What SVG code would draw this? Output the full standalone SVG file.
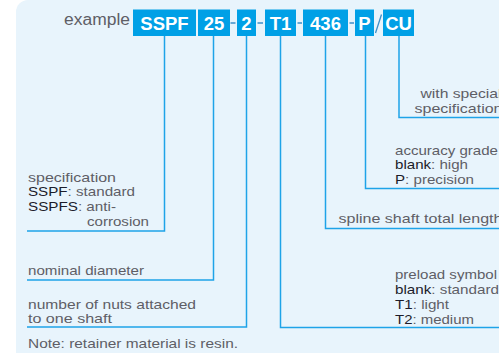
<svg xmlns="http://www.w3.org/2000/svg" width="499" height="353" viewBox="0 0 499 353">
<style>
.bx{fill:#00A0E6}
.bt{font-family:"Liberation Sans",Arial,sans-serif;font-weight:bold;font-size:18.5px;fill:#fff;text-anchor:middle}
.lb{font-family:"Liberation Sans",Arial,sans-serif;font-size:13px;fill:#5e5e66}
.k{fill:#1c1c2a}
.ln{fill:none;stroke:#1EA3E8;stroke-width:1.5}
.sep{stroke:#3f8fc8;stroke-width:1.3;fill:none}
</style>
<rect width="499" height="353" fill="#fff"/>
<path d="M16,12 A12,12 0 0 1 28,0 H499 V353 H16 Z" fill="#E8F4FC"/>
<g id="code">
  <text x="64" y="25" font-family="'Liberation Sans',Arial,sans-serif" font-size="16" fill="#5e5e66" textLength="66" lengthAdjust="spacingAndGlyphs">example</text>
  <g id="box-sspf"><rect class="bx" x="133" y="9.5" width="63" height="26.5"/><text class="bt" x="164.5" y="29.5">SSPF</text></g>
  <g id="box-25"><rect class="bx" x="198" y="9.5" width="32" height="26.5"/><text class="bt" x="214" y="29.5">25</text></g>
  <g id="box-2"><rect class="bx" x="237" y="9.5" width="19" height="26.5"/><text class="bt" x="246.5" y="29.5">2</text></g>
  <g id="box-t1"><rect class="bx" x="265" y="9.5" width="31" height="26.5"/><text class="bt" x="280.5" y="29.5">T1</text></g>
  <g id="box-436"><rect class="bx" x="303" y="9.5" width="45" height="26.5"/><text class="bt" x="325.5" y="29.5">436</text></g>
  <g id="box-p"><rect class="bx" x="355" y="9.5" width="19" height="26.5"/><text class="bt" x="364.5" y="29.5">P</text></g>
  <g id="box-cu"><rect class="bx" x="383" y="9.5" width="31" height="26.5"/><text class="bt" x="398.5" y="29.5">CU</text></g>
  <path class="sep" d="M230.5,23H235.5M257.5,23H263M297.5,23H302M349.5,23H354M375.5,33L381.5,14.5"/>
</g>
<g id="connectors">
  <path class="ln" d="M164.5,36V231H27"/>
  <path class="ln" d="M213.5,36V280H27"/>
  <path class="ln" d="M246.5,36V327H27"/>
  <path class="ln" d="M280.5,36V327.5H500"/>
  <path class="ln" d="M325.5,36V228.5H500"/>
  <path class="ln" d="M365.5,36V188.5H500"/>
  <path class="ln" d="M399,36V117.5H500"/>
</g>
<g id="label-spec">
  <text class="lb" x="28" y="181.5" textLength="88" lengthAdjust="spacingAndGlyphs">specification</text>
  <text class="lb" x="28" y="196" textLength="107" lengthAdjust="spacingAndGlyphs"><tspan class="k">SSPF</tspan>: standard</text>
  <text class="lb" x="28" y="210.5" textLength="88" lengthAdjust="spacingAndGlyphs"><tspan class="k">SSPFS</tspan>: anti-</text>
  <text class="lb" x="87" y="226" textLength="62" lengthAdjust="spacingAndGlyphs">corrosion</text>
</g>
<g id="label-diam">
  <text class="lb" x="28" y="275" textLength="116" lengthAdjust="spacingAndGlyphs">nominal diameter</text>
</g>
<g id="label-nuts">
  <text class="lb" x="28" y="308.5" textLength="168" lengthAdjust="spacingAndGlyphs">number of nuts attached</text>
  <text class="lb" x="28" y="322.5" textLength="84" lengthAdjust="spacingAndGlyphs">to one shaft</text>
</g>
<g id="note">
  <text class="lb" x="28" y="348" textLength="210" lengthAdjust="spacingAndGlyphs">Note: retainer material is resin.</text>
</g>
<g id="label-special">
  <text class="lb" x="420.5" y="98" textLength="81" lengthAdjust="spacingAndGlyphs">with special</text>
  <text class="lb" x="414.5" y="112.5" textLength="88" lengthAdjust="spacingAndGlyphs">specification</text>
</g>
<g id="label-accuracy">
  <text class="lb" x="395" y="154.5" textLength="103" lengthAdjust="spacingAndGlyphs">accuracy grade</text>
  <text class="lb" x="395" y="169" textLength="73" lengthAdjust="spacingAndGlyphs"><tspan class="k">blank</tspan>: high</text>
  <text class="lb" x="395" y="184" textLength="79" lengthAdjust="spacingAndGlyphs"><tspan class="k">P</tspan>: precision</text>
</g>
<g id="label-length">
  <text class="lb" x="338.5" y="222.5" textLength="164" lengthAdjust="spacingAndGlyphs">spline shaft total length</text>
</g>
<g id="label-preload">
  <text class="lb" x="395" y="278.5" textLength="102" lengthAdjust="spacingAndGlyphs">preload symbol</text>
  <text class="lb" x="395" y="293.5" textLength="104" lengthAdjust="spacingAndGlyphs"><tspan class="k">blank</tspan>: standard</text>
  <text class="lb" x="395" y="308.5" textLength="54" lengthAdjust="spacingAndGlyphs"><tspan class="k">T1</tspan>: light</text>
  <text class="lb" x="395" y="323.5" textLength="79" lengthAdjust="spacingAndGlyphs"><tspan class="k">T2</tspan>: medium</text>
</g>
</svg>
